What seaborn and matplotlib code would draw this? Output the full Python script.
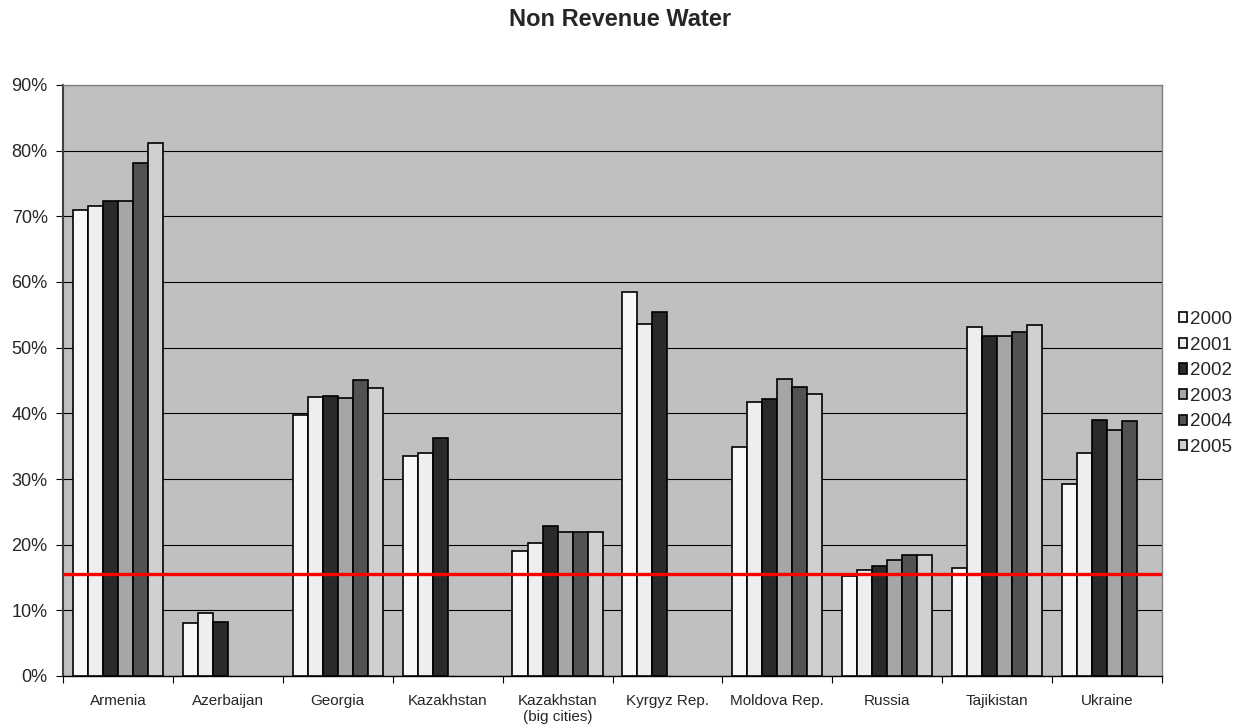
import pandas as pd
import matplotlib.pyplot as plt
import seaborn as sns
from matplotlib.ticker import PercentFormatter, FixedLocator

# Non revenue water share by country and year
countries = ['Armenia', 'Azerbaijan', 'Georgia', 'Kazakhstan', 'Kazakhstan\n(big cities)',
             'Kyrgyz Rep.', 'Moldova Rep.', 'Russia', 'Tajikistan', 'Ukraine']
years = ['2000', '2001', '2002', '2003', '2004', '2005']

armenia = [71.0, 71.6, 72.3, 72.4, 78.1, 81.2]
azerbaijan = [8.1, 9.6, 8.2]
georgia = [39.8, 42.5, 42.6, 42.4, 45.0, 43.9]
kazakhstan = [33.5, 34.0, 36.3]
kazakhstan_big = [19.0, 20.2, 22.9, 22.0, 22.0, 22.0]
kyrgyz = [58.5, 53.6, 55.5]
moldova = [34.8, 41.8, 42.2, 45.3, 44.0, 43.0]
russia = [15.2, 16.1, 16.7, 17.7, 18.4, 18.5]
tajikistan = [16.5, 53.2, 51.8, 51.8, 52.4, 53.4]
ukraine = [29.2, 34.0, 39.0, 37.5, 38.9]

benchmark = 15.5

colors = ['#F8F8F8', '#EEEEEE', '#2A2A2A', '#A6A6A6', '#525252', '#D0D0D0']

rows = []
for c, vals in zip(countries, [armenia, azerbaijan, georgia, kazakhstan, kazakhstan_big,
                               kyrgyz, moldova, russia, tajikistan, ukraine]):
    for y, v in zip(years, vals):
        rows.append({'Country': c, 'Year': y, 'Value': v})
df = pd.DataFrame(rows)

sns.set_style('white')
plt.rcParams['font.family'] = ['Liberation Sans', 'DejaVu Sans']

fig = plt.figure(figsize=(12.4, 7.28), dpi=100)
ax = fig.add_axes([63 / 1240, 1 - 676 / 728, (1162 - 63) / 1240, (676 - 85) / 728])

sns.barplot(data=df, x='Country', y='Value', hue='Year', order=countries, hue_order=years,
            palette=colors, width=0.82, gap=0, edgecolor='black', linewidth=1.2,
            saturation=1, ax=ax, zorder=3)

ax.set_facecolor('#C0C0C0')
ax.set_ylim(0, 90)
ax.set_xlim(-0.5, len(countries) - 0.5)
ax.set_yticks(range(0, 91, 10))
ax.yaxis.set_major_formatter(PercentFormatter(decimals=0))
ax.grid(axis='y', color='black', linewidth=0.8, zorder=0)
ax.set_axisbelow(True)
ax.axhline(benchmark, color='#FF0000', linewidth=2.4, zorder=5)

ax.set_xlabel('')
ax.set_ylabel('')
ax.tick_params(axis='y', labelsize=13, length=5, width=0.8, color='black', direction='out', left=True, pad=6)
ax.tick_params(axis='x', which='major', labelsize=11, length=0, pad=13)
ax.xaxis.set_minor_locator(FixedLocator([i + 0.5 for i in range(-1, len(countries))]))
ax.tick_params(axis='x', which='minor', length=5, width=0.8, color='black', bottom=True)

for s in ax.spines.values():
    s.set_color('#808080')
    s.set_linewidth(1)
ax.spines['left'].set_color('#404040')
ax.spines['left'].set_linewidth(1.5)
ax.spines['bottom'].set_color('black')

fig.suptitle('Non Revenue Water', x=0.5, y=1 - 20 / 728, fontsize=17, fontweight='bold', va='center')

leg = ax.legend(loc='center left', bbox_to_anchor=(1.0, 0.495), frameon=False, fontsize=13.5,
                handlelength=0.45, handleheight=0.45, handletextpad=0.12, labelspacing=0.46)
for h in leg.legend_handles:
    h.set_edgecolor('black')
    h.set_linewidth(1.2)

fig.savefig('out.png', dpi=100)
